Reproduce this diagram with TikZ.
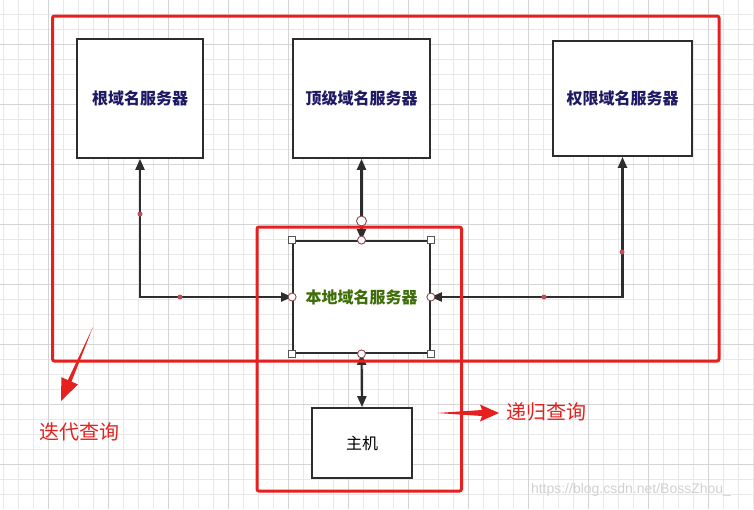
\documentclass[tikz,border=0pt]{standalone}
\usepackage{fontspec}
\setmainfont{Liberation Sans}
\newfontfamily\cjk{Noto Sans CJK SC}
\usetikzlibrary{arrows.meta}
\definecolor{redq}{RGB}{230,32,30}
\definecolor{navy}{RGB}{30,25,100}
\definecolor{greentxt}{RGB}{62,110,10}
\definecolor{darkline}{RGB}{45,45,45}
\definecolor{handle}{RGB}{140,70,75}
\definecolor{wptcol}{RGB}{190,80,90}
\definecolor{minorgrid}{RGB}{232,232,232}
\definecolor{majorgrid}{RGB}{212,212,212}
\tikzset{
  box/.style={draw=darkline, line width=1.8pt, fill=white, inner sep=0pt, font=\cjk\bfseries\fontsize{16}{19}\selectfont},
  conn/.style={draw=darkline, line width=2.2pt, {Triangle[length=11pt,width=9pt]}-{Triangle[length=11pt,width=9pt]}},
  redframe/.style={draw=redq, line width=3pt, rounded corners=2pt},
  sq/.style={draw=darkline!80, fill=white, line width=0.8pt, minimum size=7pt, inner sep=0pt},
  circ/.style={circle, draw=handle, fill=white, line width=0.9pt, minimum size=8pt, inner sep=0pt},
  wpt/.style={circle, fill=wptcol, minimum size=5pt, inner sep=0pt},
  redlabel/.style={text=redq, font=\cjk\fontsize{20}{24}\selectfont}
}
\begin{document}
\begin{tikzpicture}[x=1pt,y=-1pt]
\useasboundingbox (0,0) rectangle (754,509);
\fill[white] (0,0) rectangle (754,509);
% grid
\foreach \x in {3,18,...,753} \draw[minorgrid, line width=0.7pt] (\x,0) -- (\x,509);
\foreach \y in {14,29,...,508} \draw[minorgrid, line width=0.7pt] (0,\y) -- (754,\y);
\foreach \x in {48,108,...,753} \draw[majorgrid, line width=0.9pt] (\x,0) -- (\x,509);
\foreach \y in {44,104,...,508} \draw[majorgrid, line width=0.9pt] (0,\y) -- (754,\y);

% boxes
\node[box, minimum width=126pt, minimum height=119pt, text=navy] (root) at (140,98.5) {根域名服务器};
\node[box, minimum width=137pt, minimum height=119pt, text=navy] (tld) at (361.5,98.5) {顶级域名服务器};
\node[box, minimum width=139pt, minimum height=115pt, text=navy] (auth) at (622.5,98.5) {权限域名服务器};
\node[box, minimum width=137pt, minimum height=112pt, text=greentxt] (local) at (361.5,297) {本地域名服务器};
\node[box, minimum width=100pt, minimum height=70pt, text=black, font=\cjk\fontsize{16}{19}\selectfont] (host) at (362,443) {主机};

% connectors
\draw[conn] (root.south) |- (local.west);
\draw[conn] (auth.south) |- (local.east);
\draw[conn] (tld.south) -- (local.north);
\draw[conn] (local.south) -- (host.north);

% waypoint dots
\node[wpt] (w1) at (140,214) {};
\node[wpt] (w2) at (180,297) {};
\node[wpt] (w3) at (622,252) {};
\node[wpt] (w4) at (544,297) {};

% selection handles on local box
\foreach \a in {north west, north east, south west, south east}
  \node[sq] at (local.\a) {};
\foreach \a in {north, south, east, west}
  \node[circ] at (local.\a) {};
\node[circ, minimum size=10pt] (top) at (361.5,221) {};

% red frames
\draw[redframe] (52.5,16) rectangle (719,361);
\draw[redframe] (257,227) rectangle (461.5,491);

% hand-drawn red arrows
\fill[redq] (93,327) -- (71.5,381.6) -- (78.0,384.4) -- (61,401) -- (61.4,377.2) -- (67.9,380.0) -- cycle;
\fill[redq] (437,413) -- (482,410) -- (480,404.5) -- (499,413) -- (480,421.5) -- (482,416) -- cycle;

% labels
\node[redlabel] (iter) at (79,432) {迭代查询};
\node[redlabel] (rec) at (546,412) {递归查询};

% watermark
\node[text=black!18, font=\fontsize{14}{16}\selectfont] (wm) at (631,490) {https://blog.csdn.net/BossZhou\_};
\end{tikzpicture}
\end{document}
